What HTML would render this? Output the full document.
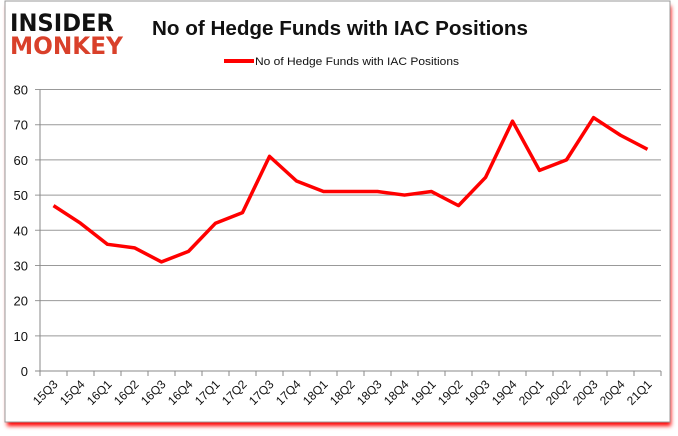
<!DOCTYPE html>
<html><head><meta charset="utf-8"><style>
body{margin:0;background:#fff;font-family:"Liberation Sans",sans-serif}
</style></head><body>
<svg width="678" height="431" xmlns="http://www.w3.org/2000/svg">
<defs><filter id="sh" x="-5%" y="-5%" width="110%" height="115%"><feGaussianBlur stdDeviation="2"/></filter></defs>
<rect x="7" y="6" width="664" height="420" fill="#f00" filter="url(#sh)"/>
<rect x="5" y="1" width="665" height="421" fill="#fff" stroke="#999"/>
<g font-family="'DejaVu Sans',sans-serif" font-weight="bold">
<text x="10" y="31" font-size="24" fill="#111" textLength="104" lengthAdjust="spacingAndGlyphs">INSIDER</text>
<text x="10" y="54" font-size="24" fill="#d9402a" textLength="113" lengthAdjust="spacingAndGlyphs">MONKEY</text>
</g>
<text x="152" y="35" font-size="20" font-weight="bold" fill="#111" textLength="376" lengthAdjust="spacingAndGlyphs">No of Hedge Funds with IAC Positions</text>
<line x1="224" y1="61" x2="254" y2="61" stroke="#f00" stroke-width="4"/>
<text x="255" y="65" font-size="11" fill="#111" textLength="204" lengthAdjust="spacingAndGlyphs">No of Hedge Funds with IAC Positions</text>
<g id="grid"></g><g id="axes"></g><g id="series"></g>
</svg>
<script>
const categories=["15Q3","15Q4","16Q1","16Q2","16Q3","16Q4","17Q1","17Q2","17Q3","17Q4","18Q1","18Q2","18Q3","18Q4","19Q1","19Q2","19Q3","19Q4","20Q1","20Q2","20Q3","20Q4","21Q1"];
const values=[47,42,36,35,31,34,42,45,61,54,51,51,51,50,51,47,55,71,57,60,72,67,63];
const yTicks=[0,10,20,30,40,50,60,70,80];
const NS="http://www.w3.org/2000/svg";
const L=40,R=661,T=89.5,B=371,YMAX=80;
const bw=(R-L)/categories.length;
const xS=i=>L+bw*(i+0.5);
const yS=v=>B-(v/YMAX)*(B-T);
function mk(t,a,p){const e=document.createElementNS(NS,t);for(const k in a)e.setAttribute(k,a[k]);p.appendChild(e);return e;}
const grid=document.getElementById('grid'),axes=document.getElementById('axes'),series=document.getElementById('series');
yTicks.forEach(v=>{
 const y=yS(v);
 const g=mk('line',{x1:L-5,x2:R,y1:y,y2:y,stroke:v===0?'#888':'#999','stroke-width':1},grid);
 
 
 const t=mk('text',{x:L-12,y:y+5,'font-size':13,'text-anchor':'end',fill:'#111'},axes);
 t.textContent=v;
 
 
});
const ya=mk('line',{x1:L,x2:L,y1:T,y2:B,stroke:'#888'},axes);


for(let i=0;i<=categories.length;i++){
 const x=L+bw*i;
 const tk=mk('line',{x1:x,x2:x,y1:B,y2:B+5,stroke:'#888'},axes);
 
 
}
categories.forEach((c,i)=>{
 const x=xS(i)+5,y=B+14;
 const t=mk('text',{x:x,y:y,'font-size':12,'text-anchor':'end',fill:'#111',transform:`rotate(-45 ${x} ${y})`},axes);
 t.textContent=c;
 
 
});
const pl=mk('polyline',{points:values.map((v,i)=>xS(i)+','+yS(v)).join(' '),fill:'none',stroke:'#f00','stroke-width':3.5,'stroke-linejoin':'round'},series);


</script>
</body></html>
